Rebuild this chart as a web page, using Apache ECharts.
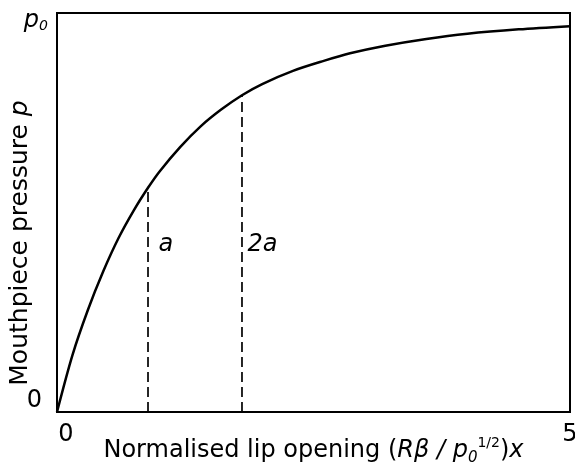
<!DOCTYPE html>
<html>
<head>
<meta charset="utf-8">
<script src="https://cdn.jsdelivr.net/npm/echarts@6/dist/echarts.min.js"></script>
<style>
  html, body { margin: 0; padding: 0; background: #fff; }
  #chart { width: 575px; height: 464px; }
</style>
</head>
<body>
<div id="chart"></div>
<script>
// normalised lip opening (R beta / p0^1/2) x
const openings = [0, 0.15, 0.3, 0.45, 0.6, 0.75, 0.887, 1.0, 1.2, 1.4, 1.6, 1.803, 2.0, 2.3, 2.6, 2.856, 3.2, 3.6, 4.0, 4.5, 5.0];
// mouthpiece pressure, as a fraction of p0
const pressures = [0, 0.142, 0.255, 0.352, 0.436, 0.506, 0.562, 0.603, 0.664, 0.716, 0.758, 0.794, 0.822, 0.855, 0.88, 0.899, 0.918, 0.935, 0.948, 0.959, 0.967];
// dashed markers at a and 2a
const markNames = ['a', '2a'];
const markOpenings = [0.887, 1.803];
const xTicks = [0, 5];
const yTicks = [0, 1];

const FONT = 'DejaVu Sans';
const chart = echarts.init(document.getElementById('chart'));

const curve = openings.map((x, i) => [x, pressures[i]]);

// 竖虚线 + 标注
const markSeries = markOpenings.map((x, i) => {
  const p = pressures[openings.indexOf(x)];
  return {
    type: 'line',
    data: [[x, 0], [x, p]],
    symbol: 'none',
    lineStyle: { color: '#000', width: 1.7, type: [10, 5] },
    markPoint: {
      symbol: 'circle',
      symbolSize: 1,
      itemStyle: { color: 'rgba(0,0,0,0)' },
      label: {
        show: true,
        position: 'right',
        distance: i === 0 ? 10 : 5,
        formatter: markNames[i],
        fontFamily: FONT,
        fontStyle: 'italic',
        fontSize: 24,
        color: '#000'
      },
      data: [{ coord: [x, 0.4185] }]
    }
  };
});

chart.setOption({
  animation: false,
  grid: {
    left: 57, right: 5, top: 13, bottom: 52,
    outerBoundsMode: 'none',
    containLabel: false,
    show: true,
    borderColor: '#000',
    borderWidth: 2
  },
  xAxis: {
    type: 'value',
    min: xTicks[0],
    max: xTicks[1],
    interval: xTicks[1] - xTicks[0],
    axisLine: { show: false },
    axisTick: { show: false },
    splitLine: { show: false },
    axisLabel: {
      margin: 11,
      color: '#000',
      fontFamily: FONT,
      fontSize: 24,
      formatter: v => (v === xTicks[0] ? '{z|' + v + '}' : String(v)),
      rich: { z: { fontFamily: FONT, fontSize: 24, color: '#000', padding: [0, 0, 0, 18] } }
    },
    name: '{n|Normalised lip opening (}{i|Rβ / p}{sub|0}{sup|1/2}{n|)}{i|x}',
    nameLocation: 'middle',
    nameGap: 24,
    nameMoveOverlap: false,
    nameTextStyle: {
      fontFamily: FONT,
      fontSize: 24,
      color: '#000',
      rich: {
        n: { fontFamily: FONT, fontSize: 24, lineHeight: 30, color: '#000' },
        i: { fontFamily: FONT, fontSize: 24, lineHeight: 30, fontStyle: 'italic', color: '#000' },
        sub: { fontFamily: FONT, fontSize: 15, lineHeight: 30, fontStyle: 'italic', verticalAlign: 'bottom', color: '#000' },
        sup: { fontFamily: FONT, fontSize: 14, lineHeight: 30, verticalAlign: 'top', color: '#000' }
      }
    }
  },
  yAxis: {
    type: 'value',
    min: yTicks[0],
    max: yTicks[1],
    interval: yTicks[1] - yTicks[0],
    axisLine: { show: false },
    axisTick: { show: false },
    splitLine: { show: false },
    axisLabel: {
      margin: 9,
      color: '#000',
      formatter: v => (v === yTicks[0] ? '{z|0}' : '{p|p}{s|0}'),
      rich: {
        z: { fontFamily: FONT, fontSize: 24, lineHeight: 46, verticalAlign: 'top', color: '#000', padding: [0, 6, 0, 0] },
        p: { fontFamily: FONT, fontSize: 24, lineHeight: 40, fontStyle: 'italic', verticalAlign: 'bottom', color: '#000' },
        s: { fontFamily: FONT, fontSize: 14, lineHeight: 40, fontStyle: 'italic', verticalAlign: 'bottom', color: '#000' }
      }
    },
    name: '{n|Mouthpiece pressure }{i|p}',
    nameLocation: 'middle',
    nameGap: 22,
    nameMoveOverlap: false,
    nameTextStyle: {
      fontFamily: FONT,
      fontSize: 25,
      color: '#000',
      padding: [0, 61, 0, 0],
      rich: {
        n: { fontFamily: FONT, fontSize: 25, lineHeight: 30, color: '#000' },
        i: { fontFamily: FONT, fontSize: 25, lineHeight: 30, fontStyle: 'italic', color: '#000' }
      }
    }
  },
  series: [
    {
      type: 'line',
      data: curve,
      smooth: 0.3,
      symbol: 'none',
      lineStyle: { color: '#000', width: 2.5 }
    }
  ].concat(markSeries)
});
</script>
</body>
</html>
